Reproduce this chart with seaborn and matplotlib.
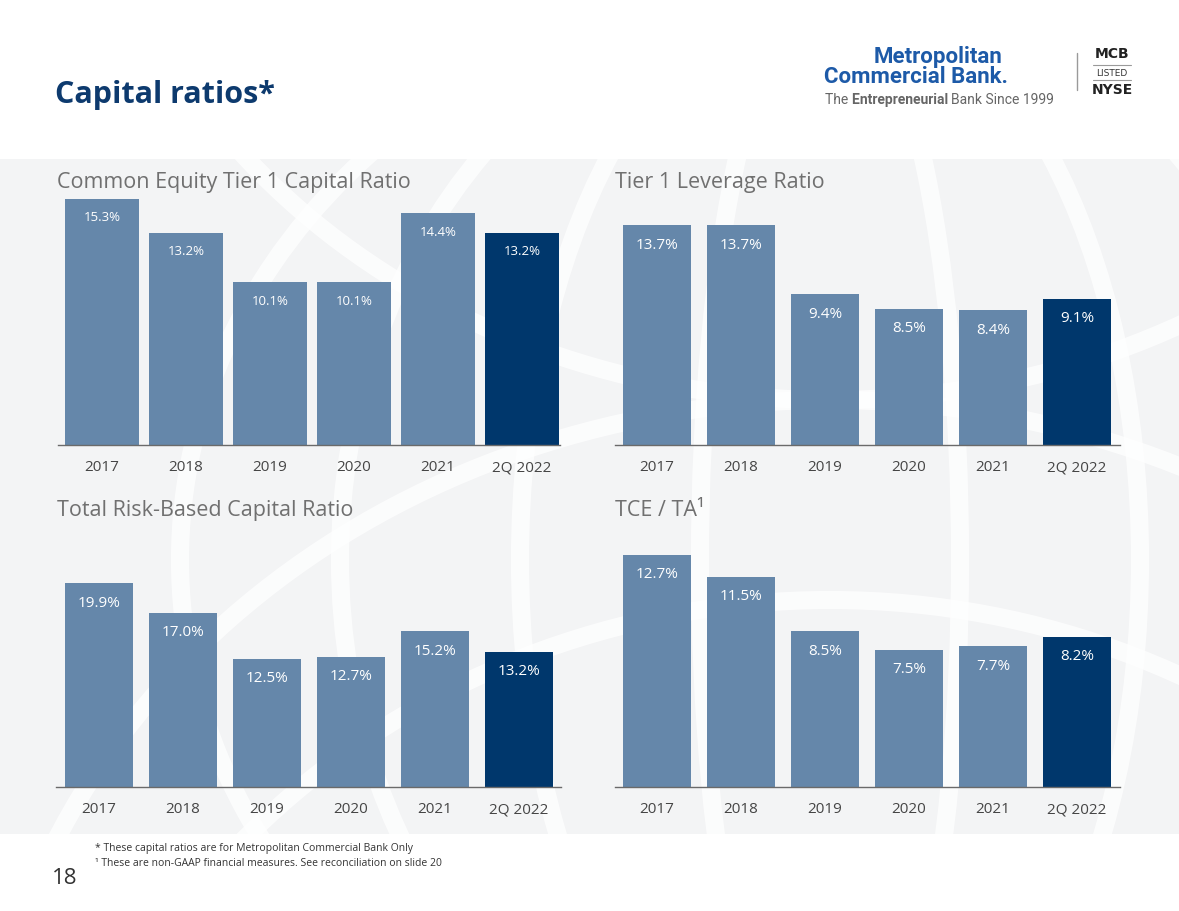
import matplotlib
matplotlib.use('Agg')
import matplotlib.pyplot as plt
from matplotlib.patches import Rectangle, Ellipse
import seaborn as sns

# slide data
periods = ['2017', '2018', '2019', '2020', '2021', '2Q 2022']
cet1 = [15.3, 13.2, 10.1, 10.1, 14.4, 13.2]
tier1_leverage = [13.7, 13.7, 9.4, 8.5, 8.4, 9.1]
total_rbc = [19.9, 17.0, 12.5, 12.7, 15.2, 13.2]
tce_ta = [12.7, 11.5, 8.5, 7.5, 7.7, 8.2]

titles = ['Common Equity Tier 1 Capital Ratio', 'Tier 1 Leverage Ratio',
          'Total Risk-Based Capital Ratio', 'TCE / TA¹']

STEEL = '#6587aa'
NAVY = '#00376c'
bar_colors = [STEEL] * 5 + [NAVY]

sns.set_theme(style='white')
plt.rcParams['font.family'] = ['Open Sans', 'DejaVu Sans']

W, H = 1179, 911
fig = plt.figure(figsize=(W / 100, H / 100), dpi=100)
fig.patch.set_facecolor('white')

def fx(px):
    return px / W

def fy(py):
    return 1 - py / H

# background band with faint globe lines
bg = fig.add_axes([0, 0, 1, 1], zorder=-5)
bg.set_xlim(0, W)
bg.set_ylim(H, 0)
bg.axis('off')
band = Rectangle((0, 159), W, 675, color='#f3f4f5', lw=0)
bg.add_patch(band)
for w in [260, 620, 980, 1300]:
    e = Ellipse((830, 560), w, 1150, fill=False, ec='white', lw=13, alpha=0.75)
    bg.add_patch(e)
    e.set_clip_path(band)
for cy, w, h in [(1150, 1700, 1500), (1350, 1600, 1500), (-250, 1500, 1300)]:
    e = Ellipse((830, cy), w, h, fill=False, ec='white', lw=13, alpha=0.75)
    bg.add_patch(e)
    e.set_clip_path(band)

# panel geometry in pixels: left, right, top, bottom, xlim, ylim top, bar width, label size
panels = [
    (58, 560, 195, 445, (-0.524, 5.452), 15.53, 0.88, 9.5, cet1),
    (615, 1120, 195, 445, (-0.5, 5.51), 15.57, 0.81, 11, tier1_leverage),
    (56, 561, 540, 787, (-0.512, 5.5), 24.1, 0.81, 11, total_rbc),
    (615, 1120, 540, 787, (-0.5, 5.51), 13.5, 0.81, 11, tce_ta),
]
title_pos = [(57, 188), (615, 188), (57, 516), (615, 516)]

for (l, r, t, b, xl, ytop, bw, lsize, vals), title, (tx, ty) in zip(panels, titles, title_pos):
    ax = fig.add_axes([fx(l), fy(b), (r - l) / W, (b - t) / H])
    ax.set_facecolor('none')
    sns.barplot(x=periods, y=vals, hue=periods, palette=bar_colors, legend=False,
                width=bw, saturation=1, linewidth=0, ax=ax)
    ax.set_xlim(*xl)
    ax.set_ylim(0, ytop)
    for i, v in enumerate(vals):
        ax.annotate(f'{v:.1f}%', (i, v), xytext=(0, -9), textcoords='offset points',
                    ha='center', va='top', color='white', fontsize=lsize)
    # category labels on a shared baseline below the axis line
    ax.set_xticks(range(len(periods)), labels=[])
    for i, p in enumerate(periods):
        ax.annotate(p, (i, 0), xycoords=('data', 'axes fraction'), xytext=(0, -19),
                    textcoords='offset points', ha='center', va='baseline',
                    fontsize=11, color='#454545', annotation_clip=False)
    sns.despine(ax=ax, left=True)
    ax.spines['bottom'].set_color('#6a6a6a')
    ax.spines['bottom'].set_linewidth(1)
    ax.set_yticks([])
    ax.set_xlabel('')
    ax.set_ylabel('')
    ax.tick_params(axis='x', length=0)
    fig.text(fx(tx), fy(ty), title, fontsize=15.5, color='#707070', va='baseline', ha='left')

# header
fig.text(fx(55), fy(103), 'Capital ratios*', fontsize=22, fontweight='bold',
         color='#0d3a6e', va='baseline', ha='left')

# logo block
fig.text(fx(1002), fy(63), 'Metropolitan', fontsize=16, fontweight='bold', color='#1d5aa8',
         ha='right', va='baseline', family='Roboto')
fig.text(fx(1008), fy(83), 'Commercial Bank.', fontsize=16, fontweight='bold', color='#1d5aa8',
         ha='right', va='baseline', family='Roboto')

renderer = fig.canvas.get_renderer()
x0 = 825
for part, wt in [('The ', 'normal'), ('Entrepreneurial ', 'bold'), ('Bank Since 1999', 'normal')]:
    tt = fig.text(fx(x0), fy(104), part, fontsize=10, fontweight=wt, color='#666666',
                  ha='left', va='baseline', family='Roboto')
    x0 += tt.get_window_extent(renderer).width

bg.plot([1077, 1077], [53, 90], color='#9a9a9a', lw=1)
bg.plot([1093, 1131], [65, 65], color='#9a9a9a', lw=0.8)
bg.plot([1093, 1131], [80, 80], color='#9a9a9a', lw=0.8)
fig.text(fx(1112), fy(54), 'MCB', fontsize=10, fontweight='bold', color='#222222',
         ha='center', va='center', family='DejaVu Sans')
fig.text(fx(1112), fy(73), 'LISTED', fontsize=6.5, color='#333333', ha='center', va='center',
         family='DejaVu Sans')
fig.text(fx(1112), fy(90), 'NYSE', fontsize=10, fontweight='bold', color='#222222',
         ha='center', va='center', family='DejaVu Sans')

# footer
fig.text(fx(95), fy(849), '* These capital ratios are for Metropolitan Commercial Bank Only',
         fontsize=7.5, color='#333333', ha='left', va='center')
fig.text(fx(95), fy(863), '¹ These are non-GAAP financial measures. See reconciliation on slide 20',
         fontsize=7.5, color='#333333', ha='left', va='center')
fig.text(fx(52), fy(878), '18', fontsize=16, color='#333333', ha='left', va='center')

fig.savefig('out.png', dpi=100)
